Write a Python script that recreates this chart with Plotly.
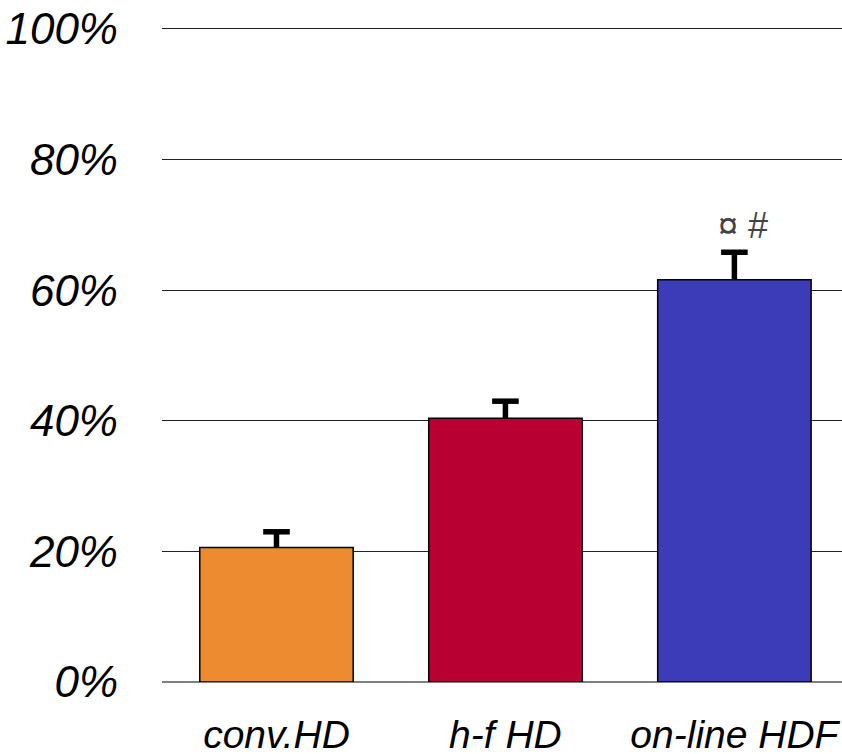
import plotly.graph_objects as go

categories = ["conv.HD", "h-f HD", "on-line HDF"]
values = [0.206, 0.404, 0.616]
errors_up = [0.024, 0.026, 0.042]
bar_colors = ["#EC8B30", "#B80032", "#3C3CB8"]
y_ticks = [0, 0.2, 0.4, 0.6, 0.8, 1.0]
y_tick_labels = ["0%", "20%", "40%", "60%", "80%", "100%"]
sig_text = "¤ #"
sig_y = 0.699

FONT = "Liberation Sans, Arial, sans-serif"
Y_TOP = 1.006

fig = go.Figure()
fig.add_trace(go.Bar(
    x=[0, 1, 2], y=values, width=0.67,
    marker=dict(color=bar_colors, line=dict(color="black", width=1.5)),
    error_y=dict(type="data", array=errors_up, arrayminus=[0] * len(values),
                 symmetric=False, width=0, thickness=5.5, color="black"),
    showlegend=False, hoverinfo="skip",
))
fig.add_trace(go.Scatter(
    x=[0, 1, 2], y=[v + e for v, e in zip(values, errors_up)],
    mode="markers",
    marker=dict(symbol="line-ew-open", size=19, color="black",
                line=dict(color="black", width=5.5)),
    showlegend=False, hoverinfo="skip",
))
fig.add_annotation(x=2, y=sig_y, text=sig_text, showarrow=False, xshift=9,
                   font=dict(family=FONT, size=36, color="#444"))

fig.update_layout(
    width=842, height=754,
    margin=dict(l=162, r=0, t=25, b=72),
    paper_bgcolor="white", plot_bgcolor="white",
)
fig.update_xaxes(
    range=[-0.5, 2.47], tickmode="array", tickvals=[0, 1, 2], ticktext=categories,
    tickfont=dict(family=FONT, size=39, color="black", style="italic"),
    showgrid=False, showline=False, zeroline=False, ticks="", ticklabelstandoff=26,
    automargin=False,
)
fig.update_yaxes(
    range=[0, Y_TOP], tickmode="array", tickvals=y_ticks, ticktext=y_tick_labels,
    tickfont=dict(family=FONT, size=44, color="black", style="italic"),
    showgrid=True, gridcolor="#222", gridwidth=1,
    zeroline=True, zerolinecolor="#808080", zerolinewidth=2,
    showline=False, ticks="", ticklabelstandoff=43, automargin=False,
)
fig.write_html(
    "out.html",
    config={"displayModeBar": False},
    post_script="document.body.style.margin='0';document.body.style.overflow='hidden';",
)
